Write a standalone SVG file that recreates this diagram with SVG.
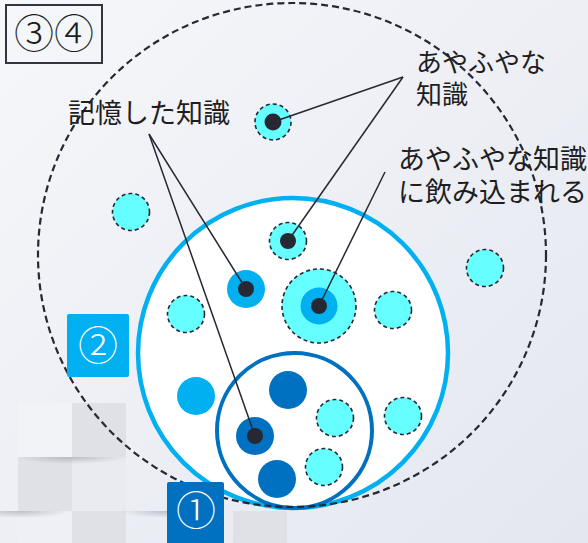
<svg xmlns="http://www.w3.org/2000/svg" width="588" height="543" viewBox="0 0 588 543">
  <defs>
    <linearGradient id="bg" x1="0" y1="0" x2="1" y2="1">
      <stop offset="0" stop-color="#f6f7fa"/>
      <stop offset="1" stop-color="#e4e7f0"/>
    </linearGradient>
    <radialGradient id="shadow" cx="0.5" cy="0" r="0.5">
      <stop offset="0" stop-color="#8c8e95" stop-opacity="0.5"/>
      <stop offset="1" stop-color="#8c8e95" stop-opacity="0"/>
    </radialGradient>
    <style>
      .lbl { font-family: "Noto Sans CJK JP", "Noto Sans", sans-serif; fill: #1e1e1e; }
      .num { font-family: "Noto Sans CJK JP", "Noto Sans", sans-serif; fill: #ffffff; font-size: 40px; font-weight: 300; text-anchor: middle; }
      .fuzzy { fill: #66ffff; stroke: #262833; stroke-width: 1.6; stroke-dasharray: 4 3; }
      .mem { fill: #00b0f0; }
      .deep { fill: #0070c0; }
      .dot { fill: #262833; }
      .conn { stroke: #262833; stroke-width: 1.5; fill: none; }
    </style>
  </defs>

  <!-- background -->
  <rect x="0" y="0" width="588" height="543" fill="url(#bg)"/>
  <g id="pattern">
    <rect x="18" y="403" width="54" height="54" fill="#f1f3f7"/>
    <rect x="72" y="403" width="54" height="54" fill="#dfe1e6"/>
    <rect x="0" y="457" width="18" height="54" fill="#eef0f5"/>
    <rect x="18" y="457" width="54" height="54" fill="#dfe1e6"/>
    <rect x="72" y="457" width="54" height="54" fill="#e9ebf1"/>
    <rect x="18" y="511" width="54" height="32" fill="#eef0f5"/>
    <rect x="72" y="511" width="54" height="32" fill="#dfe1e6"/>
    <rect x="233" y="511" width="54" height="32" fill="#dfe1e6"/>
    <rect x="16" y="457" width="112" height="14" fill="url(#shadow)"/>
    <rect x="-30" y="511" width="100" height="14" fill="url(#shadow)"/>
    <rect x="120" y="511" width="100" height="14" fill="url(#shadow)"/>
  </g>

  <!-- ② region -->
  <g id="region2">
    <circle cx="293" cy="353" r="155" fill="#ffffff" stroke="#00b0f0" stroke-width="4.5"/>
  </g>
  <!-- ① region -->
  <g id="region1">
    <circle cx="294.5" cy="430.5" r="77.5" fill="#ffffff" stroke="#0070c0" stroke-width="4"/>
  </g>
  <!-- ③④ outer region -->
  <g id="region34">
    <ellipse cx="292" cy="255" rx="254" ry="252" fill="none" stroke="#262833" stroke-width="2.2" stroke-dasharray="7 4"/>
  </g>

  <!-- knowledge nodes -->
  <g id="k1"><circle class="fuzzy" cx="273" cy="122" r="18"/><circle class="dot" cx="273" cy="122" r="8.5"/></g>
  <g id="k2"><circle class="fuzzy" cx="131" cy="212" r="18.5"/></g>
  <g id="k3"><circle class="fuzzy" cx="288" cy="241" r="18.5"/><circle class="dot" cx="288" cy="241" r="8"/></g>
  <g id="k4"><circle class="mem" cx="246" cy="289" r="19"/><circle class="dot" cx="246" cy="289" r="8"/></g>
  <g id="k5"><circle class="fuzzy" cx="319" cy="306" r="37"/><circle class="mem" cx="319" cy="306" r="18.5"/><circle class="dot" cx="319" cy="306" r="8"/></g>
  <g id="k6"><circle class="fuzzy" cx="186" cy="314" r="18.5"/></g>
  <g id="k7"><circle class="fuzzy" cx="393" cy="310" r="18.5"/></g>
  <g id="k8"><circle class="fuzzy" cx="485" cy="268" r="18.5"/></g>
  <g id="k9"><circle class="mem" cx="196" cy="396" r="19"/></g>
  <g id="k10"><circle class="deep" cx="288" cy="390" r="19"/></g>
  <g id="k11"><circle class="fuzzy" cx="335" cy="418" r="18.5"/></g>
  <g id="k12"><circle class="fuzzy" cx="403" cy="416" r="18.5"/></g>
  <g id="k13"><circle class="deep" cx="255" cy="436" r="19"/><circle class="dot" cx="255" cy="436" r="8"/></g>
  <g id="k14"><circle class="deep" cx="277" cy="479" r="19"/></g>
  <g id="k15"><circle class="fuzzy" cx="324" cy="467" r="18.5"/></g>

  <!-- connectors -->
  <g id="connectors">
    <line class="conn" x1="403" y1="77" x2="273" y2="122"/>
    <line class="conn" x1="403" y1="77" x2="288" y2="241"/>
    <line class="conn" x1="149" y1="134" x2="246" y2="289"/>
    <line class="conn" x1="149" y1="134" x2="255" y2="436"/>
    <line class="conn" x1="385" y1="172" x2="319" y2="306"/>
  </g>

  <!-- labels -->
  <g id="label-memorized">
    <text class="lbl" x="68" y="123" font-size="27">記憶した知識</text>
  </g>
  <g id="label-vague">
    <text class="lbl" x="416" y="72" font-size="26">あやふやな</text>
    <text class="lbl" x="416" y="104" font-size="26">知識</text>
  </g>
  <g id="label-swallowed">
    <text class="lbl" x="398" y="169" font-size="27">あやふやな知識</text>
    <text class="lbl" x="398" y="202" font-size="27">に飲み込まれる</text>
  </g>

  <!-- badges -->
  <g id="badge34">
    <rect x="6" y="5" width="96" height="58" fill="none" stroke="#333640" stroke-width="2"/>
    <text x="54" y="48" font-family="'Noto Sans CJK JP', 'Noto Sans', sans-serif" font-size="40" font-weight="300" text-anchor="middle" fill="#1e1e1e">③④</text>
  </g>
  <g id="badge2">
    <rect x="67" y="314" width="62" height="63" rx="2" fill="#00b0f0"/>
    <text class="num" x="98" y="360">②</text>
  </g>
  <g id="badge1">
    <rect x="167" y="482" width="57" height="65" rx="2" fill="#0070c0"/>
    <text class="num" x="196" y="525">①</text>
  </g>
</svg>
